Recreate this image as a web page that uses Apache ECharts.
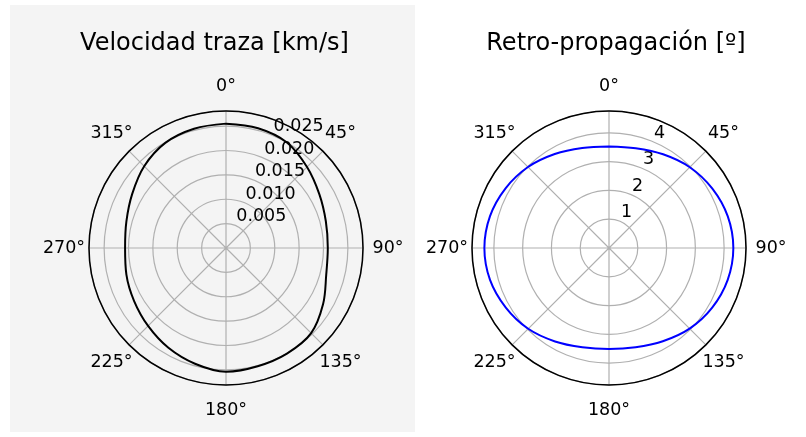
<!DOCTYPE html>
<html>
<head>
<meta charset="utf-8">
<script src="https://cdn.jsdelivr.net/npm/echarts@6/dist/echarts.min.js"></script>
<style>
html,body{margin:0;padding:0;background:#ffffff;}
#c{width:806px;height:437px;}
</style>
</head>
<body>
<div id="c"></div>
<script>
// ---- data ----
const anglesDeg = [0,15,30,45,60,75,90,105,120,135,150,165,180,195,210,225,240,255,270,285,300,315,330,345,360];
const velocidadTraza = [0.02551,0.02543,0.02500,0.02350,0.02210,0.02120,0.02088,0.02128,0.02300,0.02470,0.02500,0.02510,0.02537,0.02457,0.02363,0.02260,0.02176,0.02115,0.02070,0.02115,0.02221,0.02373,0.02490,0.02533,0.02551];
const retroPropagacion = [3.53,3.59,3.76,3.97,4.14,4.27,4.32,4.27,4.14,3.96,3.74,3.57,3.51,3.57,3.75,3.97,4.14,4.28,4.33,4.28,4.15,3.98,3.77,3.60,3.53];
const angleTickValues = [0,45,90,135,180,225,270,315];
const velocidadTicks = ['0.005','0.010','0.015','0.020','0.025'];
const retroTicks = ['1','2','3','4'];
const titles = ['Velocidad traza [km/s]', 'Retro-propagación [º]'];
const radiusMax = [0.0281, 4.76];
const radiusStep = [0.005, 1];

// ---- layout / style ----
const FONT = 'DejaVu Sans';
const centers = [[226,248],[609,248]];
const R = 137;
const GRID = '#b0b0b0';

function angleLabelFormatter(v){
  if (angleTickValues.indexOf(v) < 0) return '';
  return (v % 90 === 0 ? '{a|' : '{d|') + v + '°}';
}
const richAngle = {
  a:{width:44,height:44,lineHeight:44,align:'center',verticalAlign:'middle',fontSize:17.5,fontFamily:FONT,color:'#000'},
  d:{width:31,height:31,lineHeight:31,align:'center',verticalAlign:'middle',fontSize:17.5,fontFamily:FONT,color:'#000'}
};

const polar = [];
const angleAxis = [];
const radiusAxis = [];
const tickSets = [velocidadTicks, retroTicks];
for (let k=0;k<2;k++){
  polar.push({center:centers[k], radius:R});
  polar.push({center:centers[k], radius:R});
  angleAxis.push({
    polarIndex:2*k, type:'value', min:0, max:360, interval:45, startAngle:90, clockwise:true,
    axisLine:{show:true, lineStyle:{color:'#000', width:1.5}},
    axisTick:{show:false},
    splitLine:{show:true, lineStyle:{color:GRID, width:1.2}},
    axisLabel:{show:true, margin:3, formatter:angleLabelFormatter, rich:richAngle, fontSize:17.5, fontFamily:FONT, color:'#000'}
  });
  radiusAxis.push({
    polarIndex:2*k, type:'value', min:0, max:radiusMax[k], interval:radiusStep[k],
    axisLine:{show:false}, axisTick:{show:false}, axisLabel:{show:false},
    splitLine:{show:true, lineStyle:{color:GRID, width:1.2}}
  });
  angleAxis.push({
    polarIndex:2*k+1, type:'value', min:0, max:360, startAngle:67.5, clockwise:true, show:false
  });
  const ticks = tickSets[k];
  radiusAxis.push({
    polarIndex:2*k+1, type:'value', min:0, max:radiusMax[k], interval:radiusStep[k],
    axisLine:{show:false}, axisTick:{show:false}, splitLine:{show:false},
    axisLabel:{show:true, margin:-1, align:'left', verticalAlign:'bottom',
      fontSize:17.5, fontFamily:FONT, color:'#000',
      formatter:function(v){
        for (const t of ticks){ if (Math.abs(parseFloat(t)-v) < 1e-9) return t; }
        return '';
      }}
  });
}

const option = {
  backgroundColor:'#ffffff',
  animation:false,
  graphic:[
    {type:'rect', z:-100, silent:true, shape:{x:10,y:5,width:405,height:427}, style:{fill:'#f4f4f4'}}
  ],
  title:[
    {text:titles[0], left:209.5, top:27, textAlign:'center', textStyle:{fontSize:24, fontWeight:'normal', fontFamily:FONT, color:'#000'}},
    {text:titles[1], left:611, top:27, textAlign:'center', textStyle:{fontSize:24, fontWeight:'normal', fontFamily:FONT, color:'#000'}}
  ],
  polar:polar,
  angleAxis:angleAxis,
  radiusAxis:radiusAxis,
  series:[
    {type:'line', coordinateSystem:'polar', polarIndex:0, showSymbol:false, smooth:0.35, z:5,
     lineStyle:{color:'#000000', width:2},
     data:anglesDeg.map((a,i)=>[velocidadTraza[i], a])},
    {type:'line', coordinateSystem:'polar', polarIndex:2, showSymbol:false, smooth:0.35, z:5,
     lineStyle:{color:'#0000ff', width:2},
     data:anglesDeg.map((a,i)=>[retroPropagacion[i], a])}
  ]
};
const chart = echarts.init(document.getElementById('c'));
chart.setOption(option);
</script>
</body>
</html>
